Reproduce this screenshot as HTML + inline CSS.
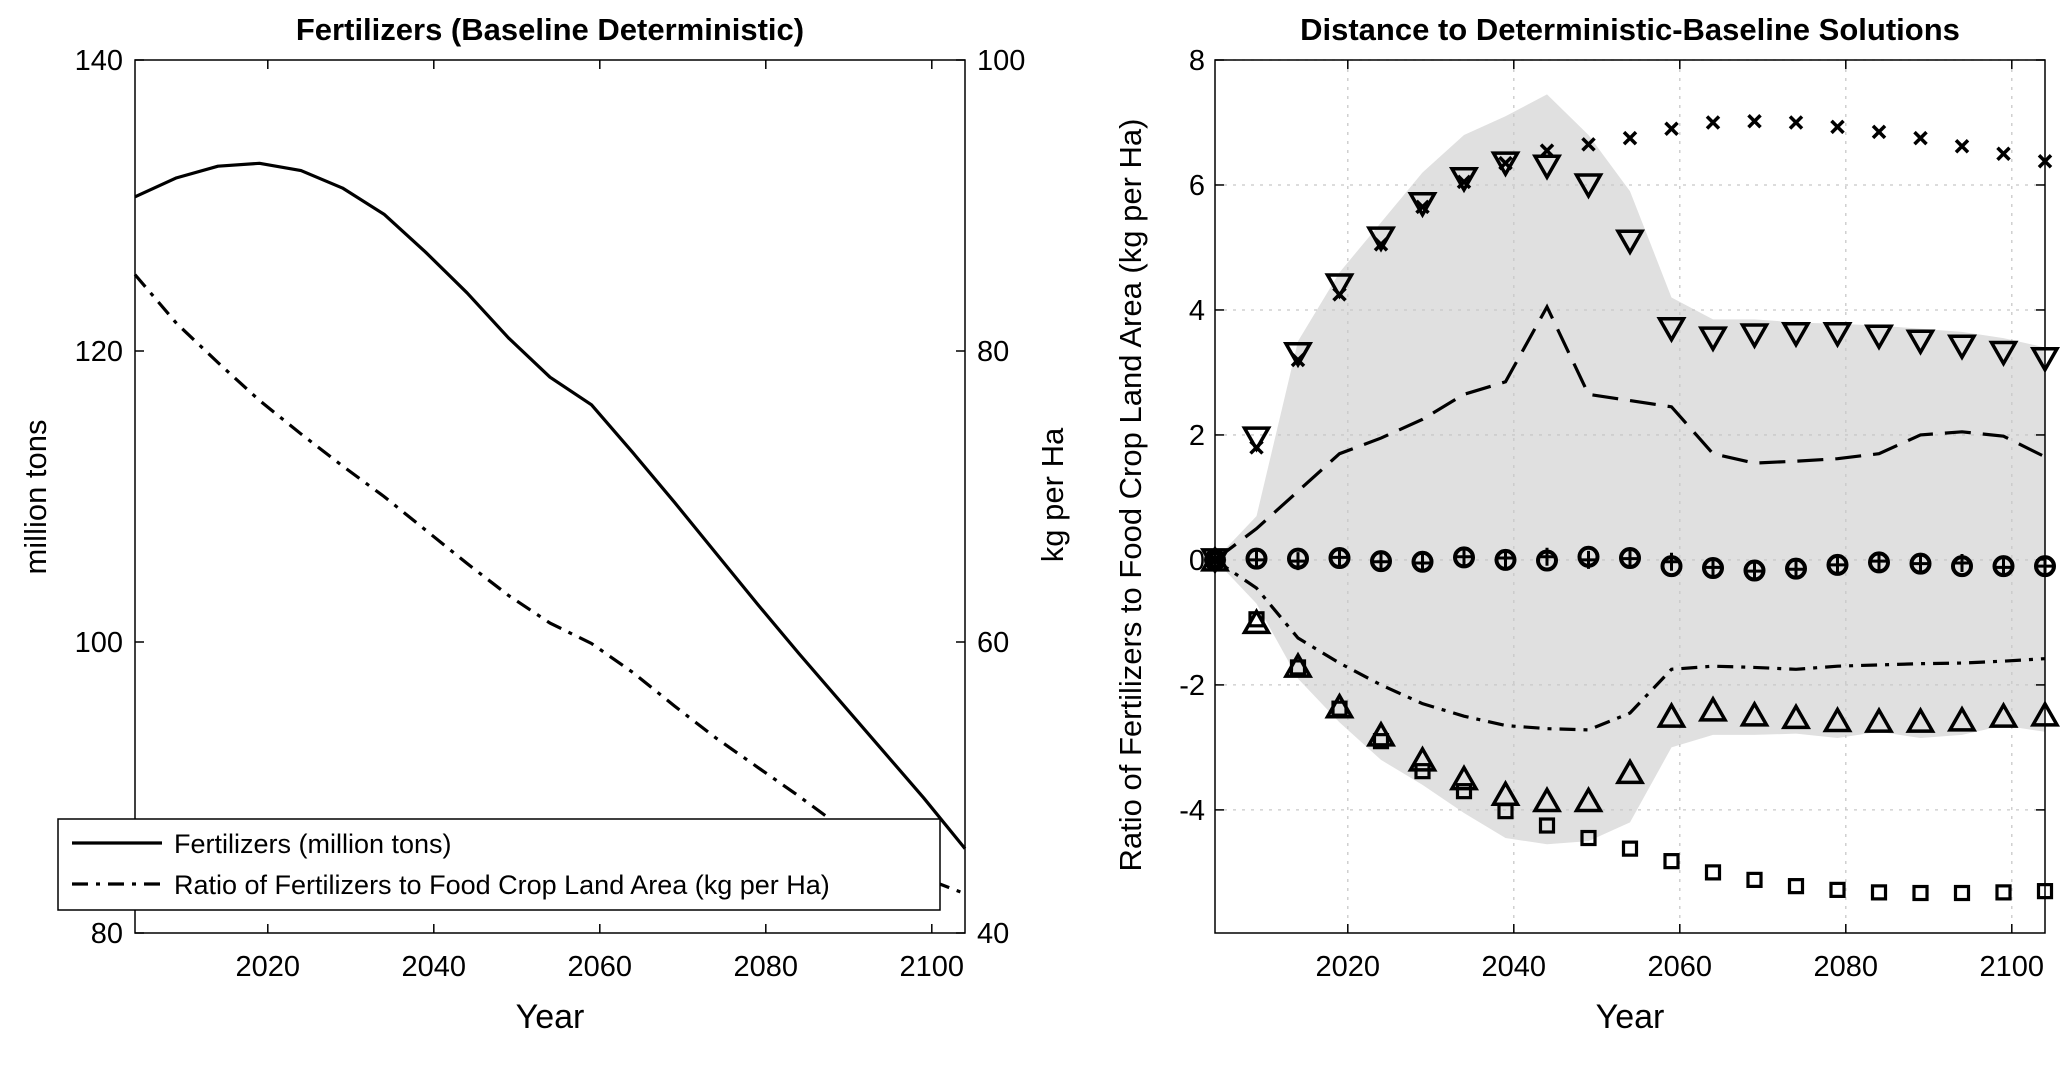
<!DOCTYPE html>
<html><head><meta charset="utf-8"><style>
html,body{margin:0;padding:0;background:#fff;}
svg{display:block;font-family:"Liberation Sans",Arial,sans-serif;}
</style></head><body>
<svg id="chart" width="2067" height="1085" viewBox="0 0 2067 1085" xmlns="http://www.w3.org/2000/svg"></svg>
<script>
const years=[2004,2009,2014,2019,2024,2029,2034,2039,2044,2049,2054,2059,2064,2069,2074,2079,2084,2089,2094,2099,2104];
const fertilizers=[130.6,131.9,132.7,132.9,132.4,131.2,129.4,126.8,124,120.9,118.2,116.3,113,109.6,106.1,102.6,99.2,95.9,92.6,89.3,85.8];
const ratioKg=[85.25,81.9,79.2,76.6,74.3,72.1,70,67.7,65.4,63.2,61.3,59.9,57.9,55.6,53.4,51.4,49.4,47.3,45.4,43.8,42.7];
const xTicks=[2020,2040,2060,2080,2100];
const leftYTicks=[80,100,120,140];
const rightYTicks=[40,60,80,100];
const distYTicks=[-4,-2,0,2,4,6,8];
const crossVals=[0,1.8,3.2,4.25,5.05,5.65,6.05,6.35,6.55,6.65,6.75,6.9,7.0,7.02,7.0,6.93,6.85,6.75,6.62,6.5,6.38];
const downTriVals=[0,1.95,3.3,4.4,5.15,5.7,6.1,6.35,6.3,6.0,5.1,3.7,3.55,3.6,3.62,3.62,3.58,3.5,3.42,3.32,3.22];
const dashVals=[0,0.5,1.1,1.7,1.95,2.25,2.65,2.85,4.05,2.65,2.55,2.45,1.7,1.55,1.58,1.62,1.7,2.0,2.05,1.98,1.65];
const circleVals=[0,0.02,0.02,0.03,-0.02,-0.03,0.04,0.0,-0.01,0.05,0.03,-0.1,-0.13,-0.17,-0.14,-0.08,-0.04,-0.06,-0.1,-0.1,-0.1];
const plusVals=[0,0.0,-0.02,0.04,-0.03,-0.05,0.05,0.03,0.05,0.0,0.02,-0.03,-0.12,-0.18,-0.15,-0.08,-0.02,-0.06,-0.05,-0.12,-0.1];
const dashDotVals=[0,-0.45,-1.25,-1.65,-2.0,-2.3,-2.5,-2.65,-2.7,-2.72,-2.45,-1.75,-1.7,-1.72,-1.75,-1.7,-1.68,-1.66,-1.65,-1.62,-1.58];
const upTriVals=[0,-1.0,-1.7,-2.35,-2.8,-3.2,-3.5,-3.75,-3.85,-3.85,-3.4,-2.5,-2.4,-2.48,-2.52,-2.57,-2.58,-2.58,-2.56,-2.5,-2.48];
const squareVals=[0,-0.95,-1.72,-2.38,-2.9,-3.38,-3.7,-4.02,-4.25,-4.45,-4.62,-4.82,-5.0,-5.12,-5.22,-5.28,-5.32,-5.33,-5.33,-5.32,-5.3];
const bandUpper=[0,0.7,3.5,4.6,5.4,6.2,6.8,7.1,7.45,6.8,5.9,4.2,3.85,3.85,3.8,3.78,3.75,3.7,3.65,3.55,3.4];
const bandLower=[0,-0.7,-1.9,-2.6,-3.2,-3.6,-4.05,-4.45,-4.55,-4.5,-4.2,-3.0,-2.8,-2.8,-2.78,-2.85,-2.75,-2.85,-2.8,-2.65,-2.75];

const NS="http://www.w3.org/2000/svg";
const svg=document.getElementById('chart');
function mk(tag,attrs,parent){const e=document.createElementNS(NS,tag);for(const k in attrs)e.setAttribute(k,attrs[k]);(parent||svg).appendChild(e);return e;}
function txt(s,attrs,parent){const e=mk('text',attrs,parent);e.textContent=s;return e;}

// ---------- Left panel ----------
const L={x0:135,x1:965,y0:60,y1:933};
const lx=v=>L.x0+(v-2004)/(100)*(L.x1-L.x0);
const ly=v=>L.y1-(v-80)/60*(L.y1-L.y0);
const ry=v=>L.y1-(v-40)/60*(L.y1-L.y0);
const gL=mk('g',{});


const t1=txt('Fertilizers (Baseline Deterministic)',{x:(L.x0+L.x1)/2,y:40,'text-anchor':'middle','font-size':31,'font-weight':'bold'},gL);


let d='';years.forEach((y,i)=>{d+=(i?'L':'M')+lx(y)+' '+ly(fertilizers[i]);});
const p1=mk('path',{d:d,fill:'none',stroke:'#000','stroke-width':3.2,'stroke-linejoin':'round'},gL);


d='';years.forEach((y,i)=>{d+=(i?'L':'M')+lx(y)+' '+ry(ratioKg[i]);});
const p2=mk('path',{d:d,fill:'none',stroke:'#000','stroke-width':3.2,'stroke-dasharray':'16 8 4 8'},gL);


const ax1=mk('rect',{x:L.x0,y:L.y0,width:L.x1-L.x0,height:L.y1-L.y0,fill:'none',stroke:'#000','stroke-width':1.5},gL);


xTicks.forEach(t=>{const x=lx(t);mk('line',{x1:x,x2:x,y1:L.y1,y2:L.y1-9,stroke:'#000','stroke-width':1.5},gL);mk('line',{x1:x,x2:x,y1:L.y0,y2:L.y0+9,stroke:'#000','stroke-width':1.5},gL);
 const e=txt(t,{x:x,y:L.y1+43,'text-anchor':'middle','font-size':29},gL);
 
 });
leftYTicks.forEach(t=>{const y=ly(t);mk('line',{x1:L.x0,x2:L.x0+9,y1:y,y2:y,stroke:'#000','stroke-width':1.5},gL);
 const e=txt(t,{x:L.x0-12,y:y+10,'text-anchor':'end','font-size':29},gL);
 
 });
rightYTicks.forEach(t=>{const y=ry(t);mk('line',{x1:L.x1,x2:L.x1-9,y1:y,y2:y,stroke:'#000','stroke-width':1.5},gL);
 const e=txt(t,{x:L.x1+12,y:y+10,'text-anchor':'start','font-size':29},gL);
 
 });
const xl1=txt('Year',{x:(L.x0+L.x1)/2,y:1028,'text-anchor':'middle','font-size':34},gL);


const yl1=txt('million tons',{x:0,y:0,'text-anchor':'middle','font-size':31,transform:'translate(46,497) rotate(-90)'},gL);


const yr1=txt('kg per Ha',{x:0,y:0,'text-anchor':'middle','font-size':31,transform:'translate(1063,495) rotate(-90)'},gL);


// legend
const lg=mk('g',{},gL);


mk('rect',{x:58,y:819,width:882,height:91,fill:'#fff',stroke:'#000','stroke-width':1.5},lg);
mk('line',{x1:72,x2:162,y1:843,y2:843,stroke:'#000','stroke-width':3.2},lg);
const le1=txt('Fertilizers (million tons)',{x:174,y:853,'font-size':27},lg);


mk('line',{x1:72,x2:162,y1:884,y2:884,stroke:'#000','stroke-width':3.2,'stroke-dasharray':'16 8 4 8'},lg);
const le2=txt('Ratio of Fertilizers to Food Crop Land Area (kg per Ha)',{x:174,y:894,'font-size':27},lg);



// ---------- Right panel ----------
const R={x0:1215,x1:2045,y0:60,y1:933};
const YMIN=-5.97,YMAX=8;
const rx=v=>R.x0+(v-2004)/100*(R.x1-R.x0);
const rY=v=>R.y1-(v-YMIN)/(YMAX-YMIN)*(R.y1-R.y0);
const gR=mk('g',{});


const t2=txt('Distance to Deterministic-Baseline Solutions',{x:(R.x0+R.x1)/2,y:40,'text-anchor':'middle','font-size':31,'font-weight':'bold'},gR);


let bd='';years.forEach((y,i)=>{bd+=(i?'L':'M')+rx(y)+' '+rY(bandUpper[i]);});
for(let i=years.length-1;i>=0;i--)bd+='L'+rx(years[i])+' '+rY(bandLower[i]);
const band=mk('path',{d:bd+'Z',fill:'#e0e0e0',stroke:'none'},gR);


xTicks.forEach(t=>{mk('line',{x1:rx(t),x2:rx(t),y1:R.y0,y2:R.y1,stroke:'#c8c8c8','stroke-width':1.3,'stroke-dasharray':'3 6'},gR);});
distYTicks.forEach(t=>{mk('line',{x1:R.x0,x2:R.x1,y1:rY(t),y2:rY(t),stroke:'#c8c8c8','stroke-width':1.3,'stroke-dasharray':'3 6'},gR);});
function line(vals,dash,name){let d='';years.forEach((y,i)=>{d+=(i?'L':'M')+rx(y)+' '+rY(vals[i]);});
 const e=mk('path',{d:d,fill:'none',stroke:'#000','stroke-width':3.2,'stroke-dasharray':dash},gR);
 
 }
line(dashVals,'26 12','dashed-line');
line(dashDotVals,'16 8 4 8','dash-dot-line');
function markers(vals,kind,name){const g=mk('g',{},gR);
 
 
 years.forEach((y,i)=>{const x=rx(y),v=rY(vals[i]);
  if(kind==='x'){mk('path',{d:`M${x-6} ${v-6}L${x+6} ${v+6}M${x-6} ${v+6}L${x+6} ${v-6}`,stroke:'#000','stroke-width':3.5,fill:'none'},g);}
  else if(kind==='down'){mk('path',{d:`M${x-12} ${v-10}L${x+12} ${v-10}L${x} ${v+11}Z`,stroke:'#000','stroke-width':3.5,fill:'none'},g);}
  else if(kind==='up'){mk('path',{d:`M${x-12} ${v+10}L${x+12} ${v+10}L${x} ${v-11}Z`,stroke:'#000','stroke-width':3.5,fill:'none'},g);}
  else if(kind==='o'){mk('circle',{cx:x,cy:v,r:9,stroke:'#000','stroke-width':4,fill:'none'},g);}
  else if(kind==='+'){mk('path',{d:`M${x-8} ${v}L${x+8} ${v}M${x} ${v-9}L${x} ${v+9}`,stroke:'#000','stroke-width':3,fill:'none'},g);}
  else if(kind==='s'){mk('rect',{x:x-6.5,y:v-6.5,width:13,height:13,stroke:'#000','stroke-width':3.2,fill:'none'},g);}
 });}
markers(crossVals,'x','cross-markers');
markers(downTriVals,'down','down-triangle-markers');
markers(circleVals,'o','circle-markers');
markers(plusVals,'+','plus-markers');
markers(upTriVals,'up','up-triangle-markers');
markers(squareVals,'s','square-markers');
const ax2=mk('rect',{x:R.x0,y:R.y0,width:R.x1-R.x0,height:R.y1-R.y0,fill:'none',stroke:'#000','stroke-width':1.5},gR);


xTicks.forEach(t=>{const x=rx(t);mk('line',{x1:x,x2:x,y1:R.y1,y2:R.y1-9,stroke:'#000','stroke-width':1.5},gR);mk('line',{x1:x,x2:x,y1:R.y0,y2:R.y0+9,stroke:'#000','stroke-width':1.5},gR);
 const e=txt(t,{x:x,y:R.y1+43,'text-anchor':'middle','font-size':29},gR);
 
 });
distYTicks.forEach(t=>{const y=rY(t);mk('line',{x1:R.x0,x2:R.x0+9,y1:y,y2:y,stroke:'#000','stroke-width':1.5},gR);mk('line',{x1:R.x1,x2:R.x1-9,y1:y,y2:y,stroke:'#000','stroke-width':1.5},gR);
 const e=txt(t,{x:R.x0-10,y:y+10,'text-anchor':'end','font-size':29},gR);
 
 });
const xl2=txt('Year',{x:(R.x0+R.x1)/2,y:1028,'text-anchor':'middle','font-size':34},gR);


const yl2=txt('Ratio of Fertilizers to Food Crop Land Area (kg per Ha)',{x:0,y:0,'text-anchor':'middle','font-size':31,transform:'translate(1141,495) rotate(-90)'},gR);


</script>
</body></html>
